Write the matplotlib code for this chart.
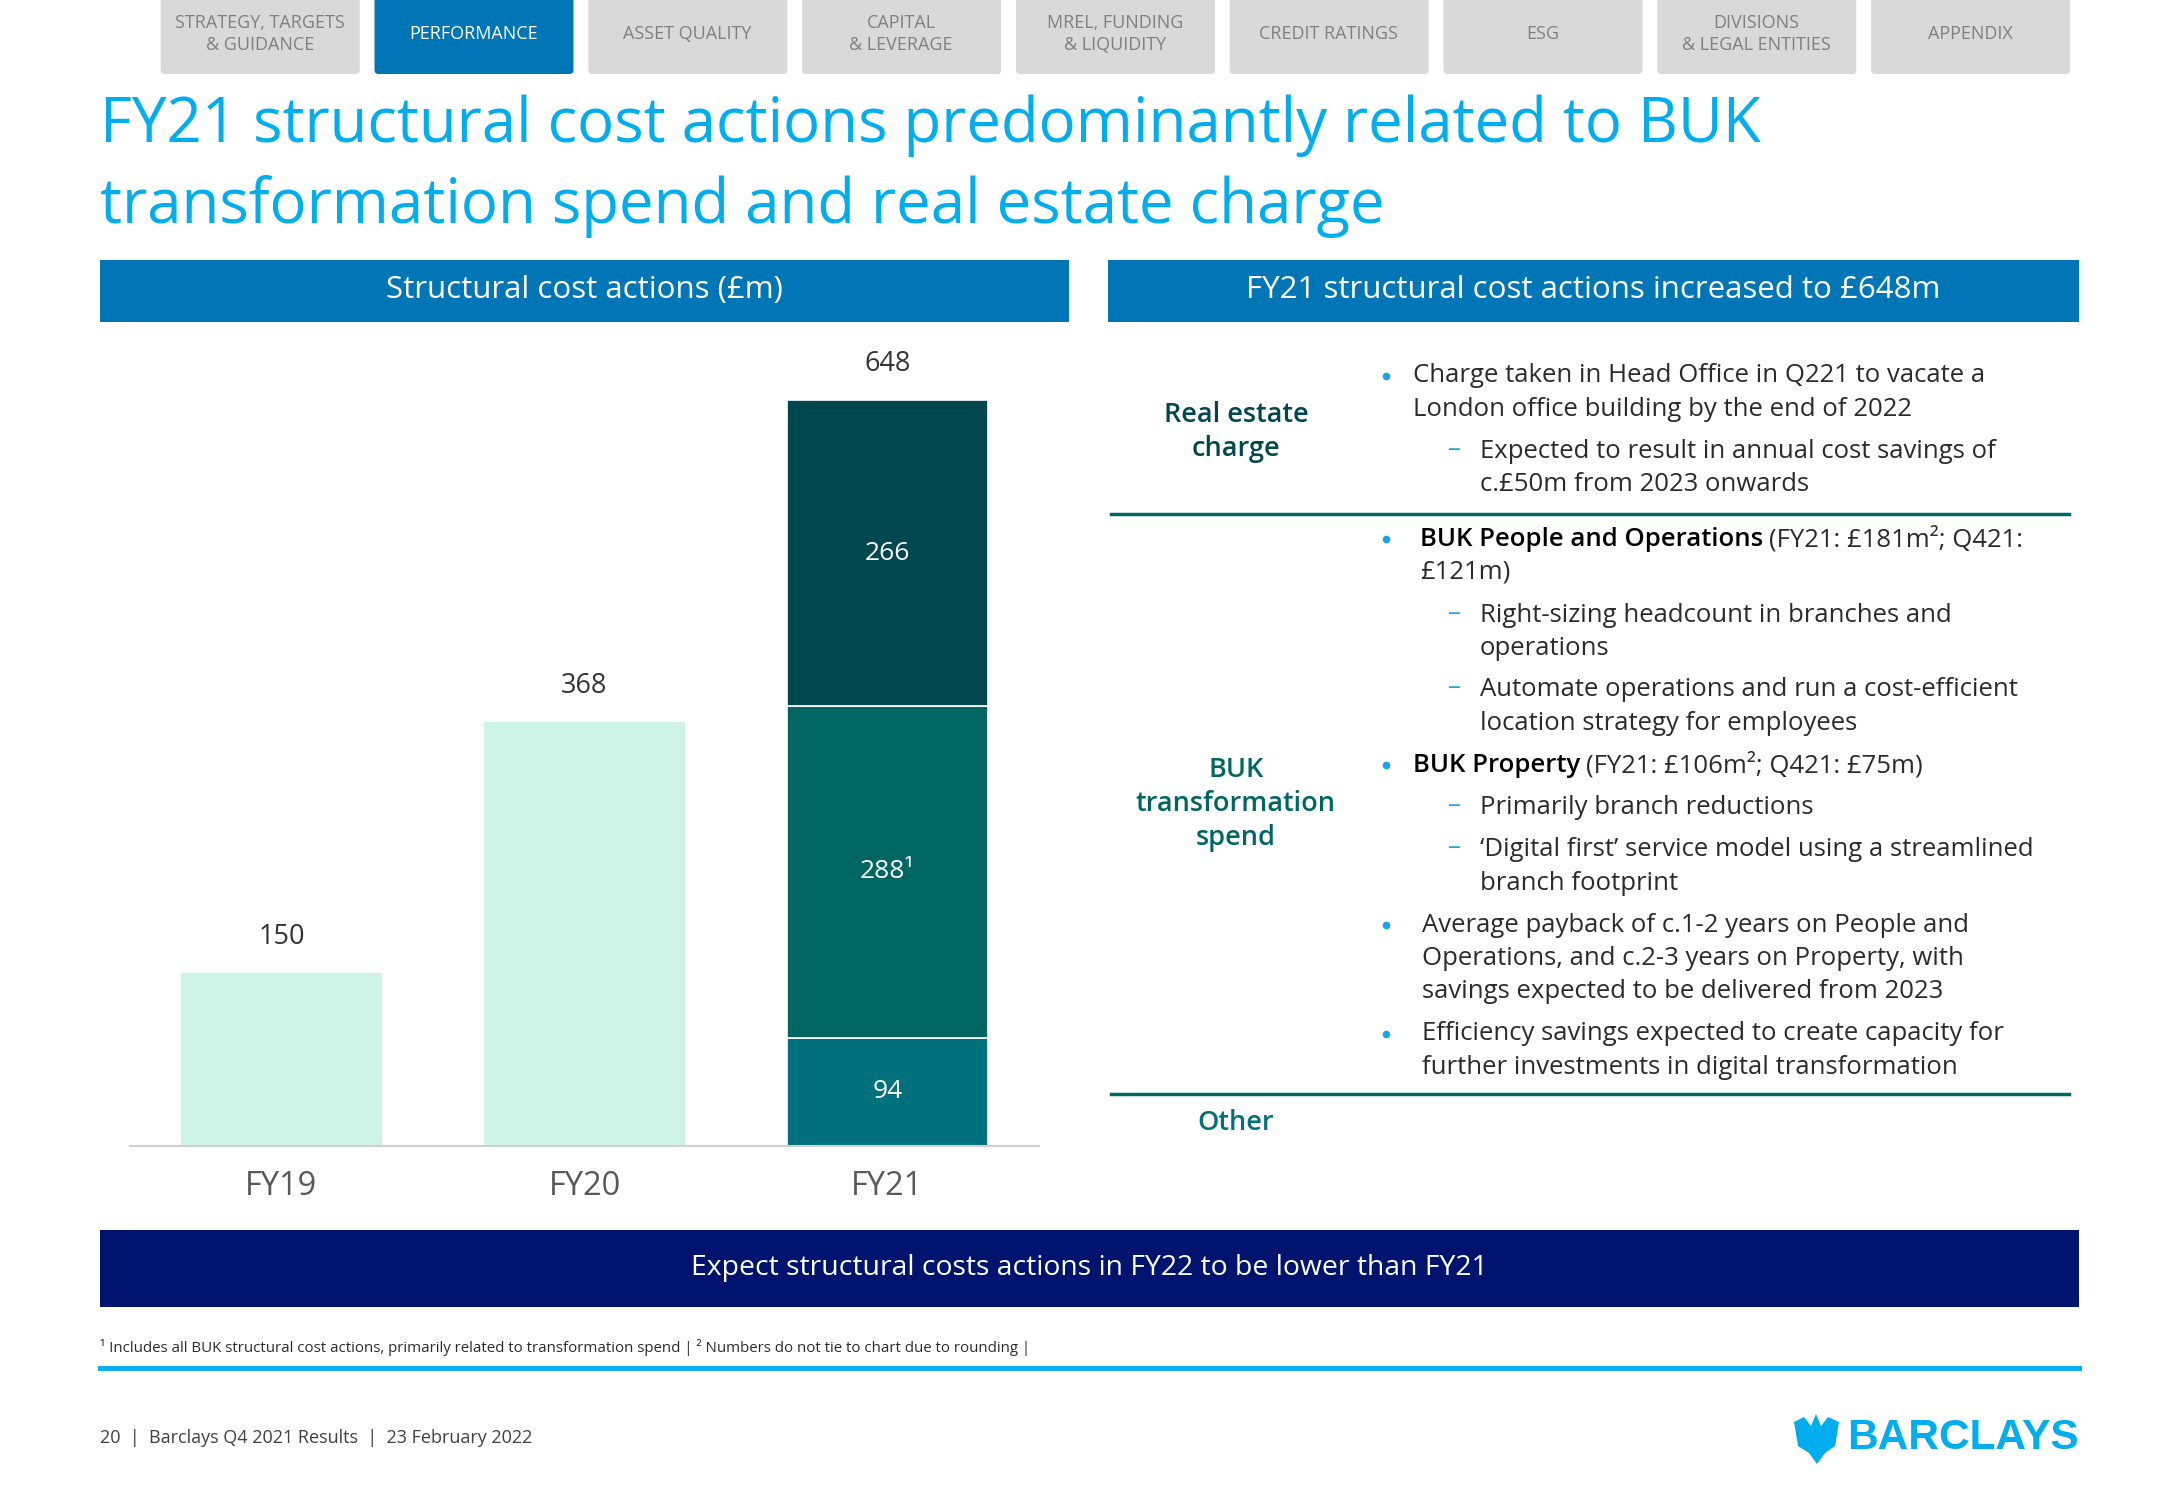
import numpy as np
import matplotlib.pyplot as plt
from matplotlib.patches import FancyBboxPatch, Rectangle, Polygon

plt.rcParams['font.family'] = ['Open Sans', 'DejaVu Sans']

# ---- data ----
years = ['FY19', 'FY20', 'FY21']
totals = [150, 368, 648]
fy21_parts = [94, 288, 266]            # other, BUK transformation, real estate (bottom -> top)
fy21_labels = ['94', '288\u00b9', '266']

tabs = ['STRATEGY, TARGETS\n& GUIDANCE', 'PERFORMANCE', 'ASSET QUALITY', 'CAPITAL\n& LEVERAGE',
        'MREL, FUNDING\n& LIQUIDITY', 'CREDIT RATINGS', 'ESG', 'DIVISIONS\n& LEGAL ENTITIES', 'APPENDIX']
active_tab = 1

W, H = 2166, 1500
cyan = '#00aeef'
blue = '#0076b6'
navy = '#00136f'
mint = '#cdf4e6'
seg_cols = ['#00717c', '#006662', '#00474f']
text_col = '#2b2b2b'

fig = plt.figure(figsize=(W / 100, H / 100), dpi=100)
bg = fig.add_axes([0, 0, 1, 1])
bg.set_xlim(0, W)
bg.set_ylim(H, 0)
bg.axis('off')

# nav tabs
for i, t in enumerate(tabs):
    x0 = 159.7 + i * 213.8
    col = blue if i == active_tab else '#d9d9d9'
    bg.add_patch(FancyBboxPatch((x0 + 1, -10), 199, 84, boxstyle='round,pad=0,rounding_size=4',
                                fc=col, ec='none'))
    bg.text(x0 + 100, 34, t, ha='center', va='center', fontsize=13, linespacing=1.35,
            color='white' if i == active_tab else '#808080')

# title
bg.text(100, 126, 'FY21 structural cost actions predominantly related to BUK', fontsize=44.5,
        color=cyan, va='center')
bg.text(100, 206, 'transformation spend and real estate charge', fontsize=44.5,
        color=cyan, va='center')

# section headers
for x0, x1, t in [(100, 1069, 'Structural cost actions (\u00a3m)'),
                  (1108, 2079, 'FY21 structural cost actions increased to \u00a3648m')]:
    bg.add_patch(Rectangle((x0, 260), x1 - x0, 62, fc=blue, ec='none'))
    bg.text((x0 + x1) / 2, 290, t, ha='center', va='center', fontsize=22.5, color='white')

# ---- bar chart ----
ax = fig.add_axes([130 / W, (H - 1146) / H, 909 / W, 806 / H])
x = np.arange(len(years))
ax.bar(x[:2], totals[:2], width=0.664, color=mint, zorder=2)
bottom = 0
for v, c, lab in zip(fy21_parts, seg_cols, fy21_labels):
    ax.bar(x[2], v, width=0.664, bottom=bottom, color=c, edgecolor='white', linewidth=1.2, zorder=2)
    ax.text(x[2], bottom + v / 2, lab, ha='center', va='center', fontsize=19, color='white')
    bottom += v
for xi, v in zip(x, totals):
    ax.annotate(str(v), (xi, v), xytext=(0, 26), textcoords='offset points',
                ha='center', va='center', fontsize=19.5, color='#333333')
ax.set_xlim(-0.5, 2.5)
ax.set_ylim(0, 700)
ax.set_xticks(x)
ax.set_xticklabels(years, fontsize=23.5, color='#595959')
ax.tick_params(axis='x', length=0, pad=17)
ax.set_yticks([])
for s in ['top', 'left', 'right']:
    ax.spines[s].set_visible(False)
ax.spines['bottom'].set_color('#d0d0d0')
ax.spines['bottom'].set_linewidth(1.5)

# ---- right panel ----
teal_line = '#006666'
for yy in [514, 1094]:
    bg.plot([1111, 2069], [yy, yy], color=teal_line, lw=2.5)

sec_fs = 19.5
bg.text(1236, 432, 'Real estate\ncharge', ha='center', va='center', fontsize=sec_fs,
        color=seg_cols[2], fontweight='semibold', linespacing=1.3)
bg.text(1236, 804, 'BUK\ntransformation\nspend', ha='center', va='center', fontsize=sec_fs,
        color=seg_cols[1], fontweight='semibold', linespacing=1.3)
bg.text(1236, 1123, 'Other', ha='center', va='center', fontsize=sec_fs,
        color=seg_cols[0], fontweight='semibold')

fs = 18.5
renderer = fig.canvas.get_renderer()


def bullet(y, x_text, lines, bold=None):
    bg.plot(1386, y, 'o', color='#1aa3e8', ms=4.5)
    for k, ln in enumerate(lines):
        xx = x_text
        if k == 0 and bold:
            t = bg.text(xx, y, bold, fontsize=fs, color='black', va='center', fontweight='semibold')
            bb = t.get_window_extent(renderer)
            xx = xx + bb.width + 6
        bg.text(xx, y + k * 33.3, ln, fontsize=fs, color=text_col, va='center')


def dash(y, lines):
    bg.text(1448, y - 2, '\u2013', fontsize=fs, color='#1aa3e8', va='center', ha='left')
    for k, ln in enumerate(lines):
        bg.text(1480, y + k * 33.3, ln, fontsize=fs, color=text_col, va='center')


bullet(376, 1413, ['Charge taken in Head Office in Q221 to vacate a',
                   'London office building by the end of 2022'])
dash(451, ['Expected to result in annual cost savings of', 'c.\u00a350m from 2023 onwards'])
bullet(539, 1420, ['(FY21: \u00a3181m\u00b2; Q421:', '\u00a3121m)'], bold='BUK People and Operations')
dash(615, ['Right-sizing headcount in branches and', 'operations'])
dash(690, ['Automate operations and run a cost-efficient', 'location strategy for employees'])
bullet(765, 1413, ['(FY21: \u00a3106m\u00b2; Q421: \u00a375m)'], bold='BUK Property')
dash(808, ['Primarily branch reductions'])
dash(850, ['\u2018Digital first\u2019 service model using a streamlined', 'branch footprint'])
bullet(925, 1422, ['Average payback of c.1-2 years on People and',
                   'Operations, and c.2-3 years on Property, with',
                   'savings expected to be delivered from 2023'])
bullet(1034, 1422, ['Efficiency savings expected to create capacity for',
                    'further investments in digital transformation'])

# ---- bottom banner ----
bg.add_patch(Rectangle((100, 1230), 1979, 77, fc=navy, ec='none'))
bg.text(1089, 1268, 'Expect structural costs actions in FY22 to be lower than FY21', ha='center',
        va='center', fontsize=20.4, color='white')

bg.text(100, 1348, '\u00b9 Includes all BUK structural cost actions, primarily related to transformation spend | '
        '\u00b2 Numbers do not tie to chart due to rounding |', fontsize=10.8, color=text_col, va='center')
bg.plot([100, 2079], [1368, 1368], color=cyan, lw=3.5)
bg.text(100, 1438, '20  |  Barclays Q4 2021 Results  |  23 February 2022', fontsize=13,
        color='#404040', va='center')

# logo
bg.add_patch(Polygon([[1794, 1422], [1804, 1417], [1811, 1426], [1816, 1414], [1821, 1426],
                      [1828, 1417], [1839, 1422], [1835, 1446], [1825, 1453], [1817, 1464],
                      [1809, 1453], [1798, 1446]], closed=True, fc=cyan, ec='none'))
bg.text(2079, 1438, 'BARCLAYS', fontsize=30.5, color=cyan, fontweight='bold', ha='right', va='center',
        family=['Liberation Sans', 'DejaVu Sans'])

fig.savefig('out.png', dpi=100)
